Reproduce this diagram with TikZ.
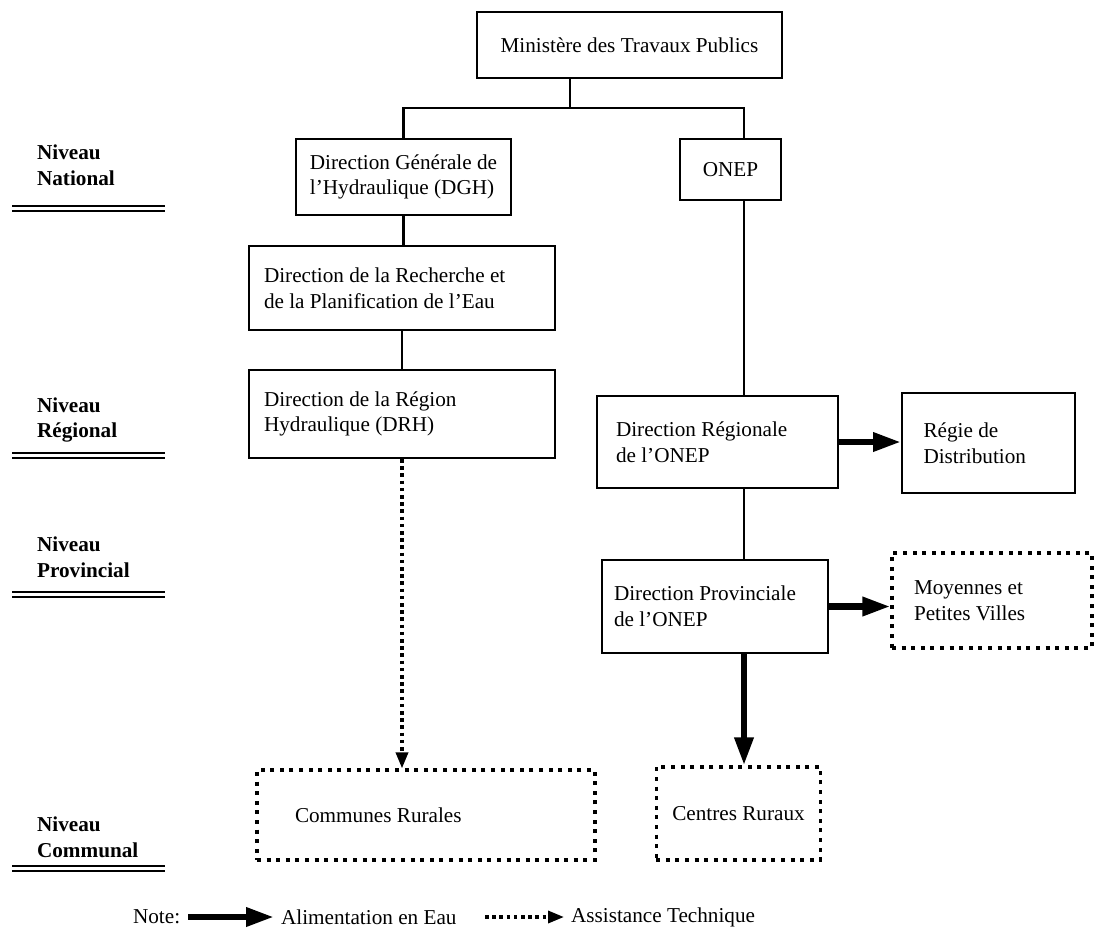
\documentclass[tikz,border=0pt]{standalone}
\usepackage{fontspec}
\setmainfont{Liberation Serif}
\usetikzlibrary{arrows.meta,positioning,calc}
\newcommand\boxfont{\fontsize{10.6pt}{12.8pt}\selectfont}

\begin{document}
\begin{tikzpicture}[x=0.5pt,y=-0.5pt,
  box/.style={draw, line width=1pt, inner xsep=8pt, align=flush left, font=\boxfont},
  dotbox/.style={box, line width=1.6pt, dash pattern=on 2pt off 2.8pt},
  lvl/.style={anchor=west, align=flush left, font=\boxfont\bfseries},
  link/.style={line width=1.1pt},
  water/.style={line width=3.2pt, -{Triangle[length=14pt,width=9pt]}},
  aid/.style={line width=1.7pt, dash pattern=on 1.8pt off 1.8pt, -{Triangle[length=8pt,width=6pt]}}]
  \useasboundingbox (0,0) rectangle (1099,949);
  \fill[white] (0,0) rectangle (1099,949);

  %% national level
  \node[box, minimum width=152.5pt, minimum height=33pt] (mtp) at (629.5,45) {Ministère des Travaux Publics};
  \node[box, inner xsep=4pt, minimum width=107.5pt, minimum height=38pt] (dgh) at (403.5,177) {Direction Générale de\\l'Hydraulique (DGH)};
  \node[box, minimum width=50.5pt, minimum height=30.5pt] (onep) at (730.5,169.5) {ONEP};
  \node[box, text width=138pt, inner xsep=7.5pt, minimum height=42pt] (drpe) at (402,288) {Direction de la Recherche et\\de la Planification de l'Eau};

  %% regional level
  \node[box, text width=138pt, inner xsep=7.5pt, minimum height=44pt] (drh) at (402,414) {Direction de la Région\\Hydraulique (DRH)};
  \node[box, text width=101.5pt, inner xsep=9.5pt, minimum height=46pt] (dro) at (717.5,442) {Direction Régionale\\de l'ONEP};
  \node[box, text width=65pt, inner xsep=10.75pt, minimum height=50pt] (regie) at (988.5,443) {Régie de\\Distribution};

  %% provincial level
  \node[box, text width=101pt, inner xsep=6pt, minimum height=46.5pt] (dpo) at (715,606.5) {Direction Provinciale\\de l'ONEP};
  \node[dotbox, text width=78pt, inner xsep=11pt, minimum height=47.5pt] (moy) at (992,600.5) {Moyennes et\\Petites Villes};

  %% communal level
  \node[dotbox, text width=131pt, inner xsep=19pt, minimum height=45pt] (comm) at (426,815) {Communes Rurales};
  \node[dotbox, minimum width=81.5pt, minimum height=46.5pt] (cent) at (738.5,813.5) {Centres Ruraux};

  %% hierarchy
  \coordinate (jn) at (570,108);
  \coordinate (colR) at (744,0);
  \draw[link] (mtp.south -| jn) -- (jn);
  \draw[link] (dgh.north) |- (jn) -| (onep.north -| colR);
  \draw[link] (dgh.south) -- (dgh.south |- drpe.north);
  \draw[link] (drpe) -- (drh);
  \draw[link] (onep.south -| colR) -- (dro.north -| colR);
  \draw[link] (dro.south -| colR) -- (dpo.north -| colR);

  %% supply and assistance
  \draw[water] (dro.east) -- (dro.east -| regie.west);
  \draw[water] (dpo.east) -- (dpo.east -| moy.west);
  \draw[water] (dpo.south -| colR) -- (cent.north -| colR);
  \draw[aid] (drh.south) -- (drh.south |- comm.north);

  %% level labels
  \foreach \lv/\txt/\y/\r in {nat/National/165/206, reg/Régional/420/453, prov/Provincial/557/592, cmn/Communal/837/866}{
    \node[lvl] (lv\lv) at (30,\y) {Niveau\\\txt};
    \draw[line width=0.9pt] (12,\r) -- (165,\r) (12,{\r+5}) -- (165,{\r+5});
  }

  %% legend
  \node[anchor=west, font=\boxfont] (note) at (126,917) {Note:};
  \coordinate (wfrom) at (188,917);
  \node[anchor=west, font=\boxfont] (wlbl) at (274,917) {Alimentation en Eau};
  \draw[water] (wfrom) -- (wlbl.west);
  \coordinate (afrom) at (485,917);
  \node[anchor=west, font=\boxfont] (albl) at (564,917) {Assistance Technique};
  \draw[aid] (afrom) -- (albl.west);
\end{tikzpicture}
\end{document}
